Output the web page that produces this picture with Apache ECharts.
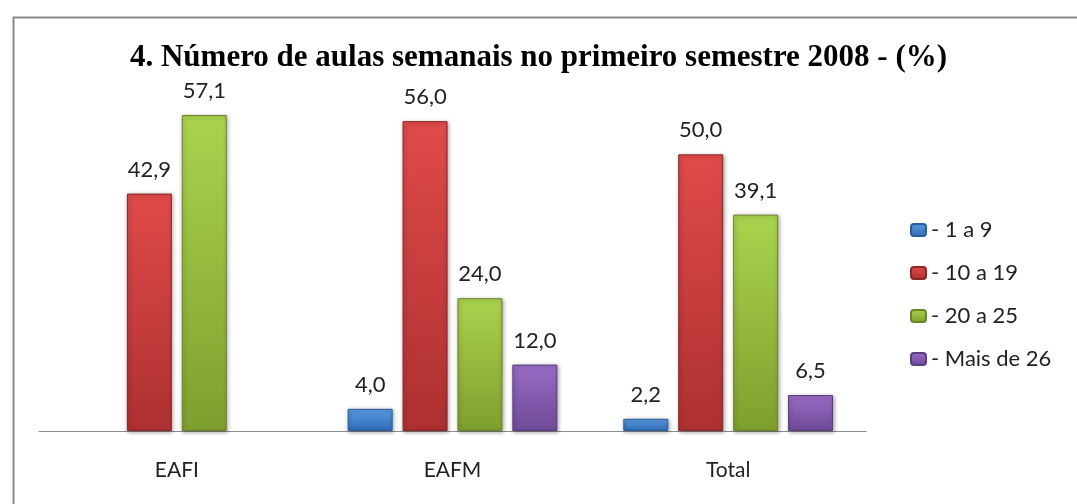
<!DOCTYPE html>
<html>
<head>
<meta charset="utf-8">
<script src="https://cdn.jsdelivr.net/npm/echarts@6/dist/echarts.min.js"></script>
<style>
  html, body { margin: 0; padding: 0; background: #fff; }
  #chart { width: 1077px; height: 504px; }
</style>
</head>
<body>
<div id="chart"></div>
<script>
// ── 資料 ─────────────────────────────────────
const categories = ['EAFI', 'EAFM', 'Total'];
const seriesNames = ['- 1 a 9', '- 10 a 19', '- 20 a 25', '- Mais de 26'];
const s1a9    = [null, 4.0, 2.2];
const s10a19  = [42.9, 56.0, 50.0];
const s20a25  = [57.1, 24.0, 39.1];
const sMais26 = [null, 12.0, 6.5];

// 每組顏色：上亮、下暗、邊框
const palette = [
  ['#5a9be0', '#2f6cb8', '#285c9c'],
  ['#e04a4a', '#ad3030', '#8e2626'],
  ['#aad34e', '#7f9f2e', '#6a8626'],
  ['#9a6cc6', '#6e4a98', '#5c3e80'],
];

const chart = echarts.init(document.getElementById('chart'));

function grad(c) {
  return new echarts.graphic.LinearGradient(0, 0, 0, 1, [
    { offset: 0, color: c[0] },
    { offset: 1, color: c[1] },
  ]);
}

const dataSets = [s1a9, s10a19, s20a25, sMais26];

const series = dataSets.map((d, i) => ({
  name: seriesNames[i],
  type: 'bar',
  data: d,
  barWidth: 45,
  barGap: '22%',
  itemStyle: {
    color: grad(palette[i]),
    borderColor: palette[i][2],
    borderWidth: 1,
    shadowColor: 'rgba(0,0,0,0.35)',
    shadowBlur: 4,
    shadowOffsetX: 1,
    shadowOffsetY: 1,
  },
  label: {
    show: true,
    position: 'top',
    distance: 13,
    color: '#222',
    fontFamily: 'Lato',
    fontSize: 22,
    formatter: p => p.value == null ? '' : p.value.toFixed(1).replace('.', ','),
  },
}));

chart.setOption({
  animation: false,
  backgroundColor: '#fff',
  title: {
    text: '4. Número de aulas semanais no primeiro semestre 2008 - (%)',
    left: 'center',
    top: 37,
    textStyle: {
      fontFamily: 'Liberation Serif',
      fontWeight: 'bold',
      fontSize: 31,
      color: '#000',
    },
  },
  legend: {
    orient: 'vertical',
    left: 905,
    top: 214,
    itemWidth: 15,
    itemHeight: 12,
    itemGap: 21,
    textStyle: { fontFamily: 'Lato', fontSize: 22, color: '#222' },
    data: seriesNames.map((n, i) => ({
      name: n,
      itemStyle: { color: grad(palette[i]), borderColor: palette[i][2] },
    })),
  },
  grid: { left: 39, right: 211, top: 99, bottom: 73 },
  xAxis: {
    type: 'category',
    data: categories,
    axisLine: { lineStyle: { color: '#8c8c8c', width: 1 } },
    axisTick: { show: false },
    axisLabel: { color: '#222', fontFamily: 'Lato', fontSize: 21, margin: 29 },
  },
  yAxis: {
    type: 'value',
    min: 0,
    max: 60,
    show: false,
  },
  graphic: [{
    type: 'rect',
    left: 11,
    top: 15,
    shape: { width: 1100, height: 600 },
    style: { fill: 'none', stroke: '#8a8a8a', lineWidth: 2 },
    silent: true,
  }],
  series: series,
});
</script>
</body>
</html>
